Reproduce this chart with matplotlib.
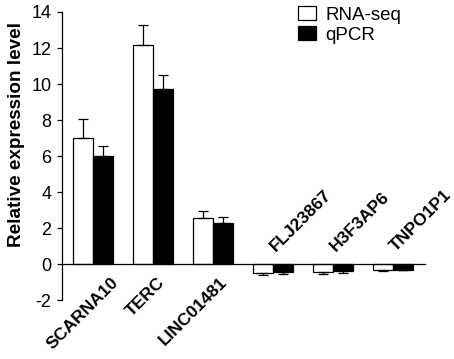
import numpy as np
import matplotlib
matplotlib.use("Agg")
import matplotlib.pyplot as plt

genes = ['SCARNA10', 'TERC', 'LINC01481', 'FLJ23867', 'H3F3AP6', 'TNPO1P1']
rnaseq = [7.0, 12.15, 2.55, -0.5, -0.45, -0.35]
rnaseq_err = [1.05, 1.1, 0.4, 0.1, 0.1, 0.05]
qpcr = [6.0, 9.7, 2.3, -0.45, -0.4, -0.3]
qpcr_err = [0.55, 0.8, 0.3, 0.1, 0.1, 0.05]

plt.rcParams['font.family'] = ['Liberation Sans', 'DejaVu Sans']
plt.rcParams['axes.unicode_minus'] = False

fig = plt.figure(figsize=(4.54, 3.59), dpi=100)
ax = fig.add_axes([0.1366, 0.164, 0.936 - 0.1366, 0.9666 - 0.164])

x = np.arange(len(genes))
w = 1 / 3


def one_sided(vals, errs):
    lo = [e if v < 0 else 0 for v, e in zip(vals, errs)]
    hi = [e if v >= 0 else 0 for v, e in zip(vals, errs)]
    return [lo, hi]


ax.bar(x - w / 2, rnaseq, w, color='white', edgecolor='black', linewidth=0.9,
       yerr=one_sided(rnaseq, rnaseq_err), capsize=3.5,
       error_kw=dict(elinewidth=0.9, capthick=0.9), label='RNA-seq')
ax.bar(x + w / 2, qpcr, w, color='black', edgecolor='black', linewidth=0.9,
       yerr=one_sided(qpcr, qpcr_err), capsize=3.5,
       error_kw=dict(elinewidth=0.9, capthick=0.9), label='qPCR')

ax.set_xlim(-0.517, 5.533)
ax.set_ylim(-2, 14)
ax.set_yticks(range(-2, 15, 2))
ax.tick_params(axis='y', labelsize=13, direction='out', length=3.6, width=0.9, pad=4)
ax.set_xticks([])
ax.spines['top'].set_visible(False)
ax.spines['right'].set_visible(False)
ax.spines['bottom'].set_position(('data', 0))
ax.spines['left'].set_linewidth(0.9)
ax.spines['bottom'].set_linewidth(0.9)
ax.set_ylabel('Relative expression level', fontsize=13.6, fontweight='bold')
ax.yaxis.set_label_coords(-0.103, 0.575)

# label offsets (hand placed in the original)
offs = [0.29, 0.07, 0.1, 0.08, 0.08, 0.08]
for xi, g, v, o in zip(x, genes, rnaseq, offs):
    if v >= 0:
        ax.text(xi + o, -0.6, g, rotation=45, ha='right', va='top',
                rotation_mode='anchor', fontsize=12.6, fontweight='bold')
    else:
        ax.text(xi + o, 0.55, g, rotation=45, ha='left', va='bottom',
                rotation_mode='anchor', fontsize=12.6, fontweight='bold')

ax.legend(loc='upper left', bbox_to_anchor=(0.63, 1.046), frameon=False,
          fontsize=13.5, handlelength=0.95, handleheight=0.75, handletextpad=0.5,
          labelspacing=0.15, borderaxespad=0)

fig.savefig('out.png', dpi=100)
